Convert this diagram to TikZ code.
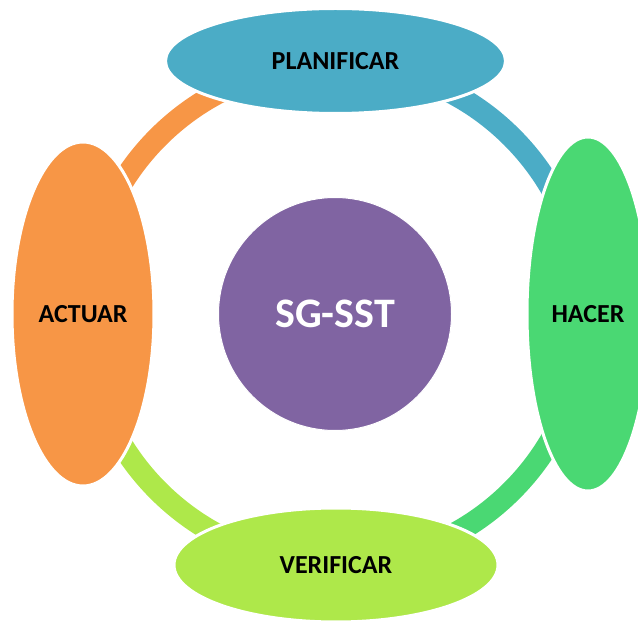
\documentclass[tikz,border=0pt]{standalone}
\usepackage{fontspec}
\setmainfont{Carlito}
\usepackage{tikz}
\usetikzlibrary{calc,shapes.geometric}
\definecolor{planblue}{HTML}{4BACC6}
\definecolor{hacergreen}{HTML}{4AD873}
\definecolor{veriflime}{HTML}{AEE84A}
\definecolor{actuarorange}{HTML}{F79646}
\definecolor{sgpurple}{HTML}{8064A2}
\tikzset{
    phase/.style={
        ellipse,
        draw=white,
        line width=3,
        inner sep=0,
        font=\fontsize{26}{30}\selectfont\bfseries,
        text=black,
    },
    ringseg/.style={
        line width=22,
    },
    core/.style={
        circle,
        fill=sgpurple,
        draw=white,
        line width=1,
        minimum size=233,
        inner sep=0,
        font=\fontsize{42}{48}\selectfont\bfseries,
        text=white,
    },
}

\begin{document}
\begin{tikzpicture}[x=1pt, y=1pt]
    \useasboundingbox (0, 0) rectangle (638, 622);

    % Centre of the cycle
    \coordinate (mid) at (335, 308);

    % Points on the ring where the phases sit
    \coordinate (ptop) at ($(mid) + (90:250)$);
    \coordinate (pright) at ($(mid) + (0:250)$);
    \coordinate (pbottom) at ($(mid) + (-90:250)$);
    \coordinate (pleft) at ($(mid) + (180:250)$);

    % Ring segments, clockwise
    \draw[ringseg, planblue] (ptop)
      arc[start angle=90, end angle=0, radius=250];
    \draw[ringseg, hacergreen] (pright)
      arc[start angle=0, end angle=-90, radius=250];
    \draw[ringseg, veriflime] (pbottom)
      arc[start angle=-90, end angle=-180, radius=250];
    \draw[ringseg, actuarorange] (pleft)
      arc[start angle=180, end angle=90, radius=250];

    % Phases
    \node[phase, fill=planblue, minimum width=340, minimum height=105]
      (plan) at ($(ptop) + (0.5, 3)$) {PLANIFICAR};
    \node[phase, fill=hacergreen, minimum width=122, minimum height=354]
      (hacer) at ($(pright) + (3, 0)$) {HACER};
    \node[phase, fill=veriflime, minimum width=324, minimum height=114]
      (verif) at ($(pbottom) + (1, -1)$) {VERIFICAR};
    \node[phase, fill=actuarorange, minimum width=142, minimum height=344]
      (actuar) at ($(pleft) + (-2, 0)$) {ACTUAR};

    % Management system in the middle
    \node[core] (sgsst) at (mid) {SG-SST};

  \end{tikzpicture}
\end{document}
